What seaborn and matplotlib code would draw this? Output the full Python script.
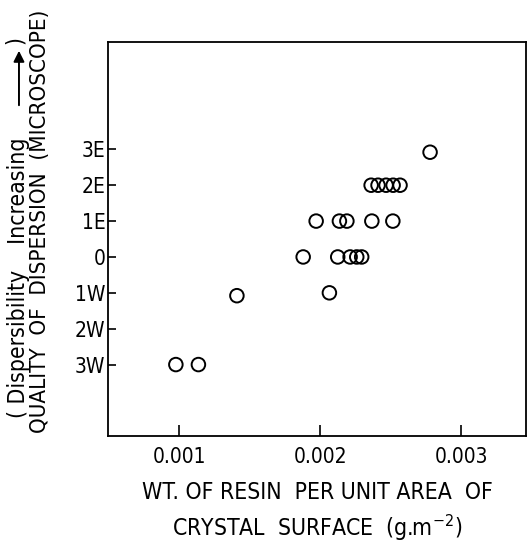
import matplotlib
matplotlib.use("Agg")
import matplotlib.pyplot as plt
import pandas as pd
import seaborn as sns

# Resin loading (g m^-2) and dispersion quality (3E = +3 ... 3W = -3)
resin = [0.000977, 0.001137, 0.00141, 0.002066,
         0.00188, 0.002125, 0.002213, 0.00226, 0.002295,
         0.001972, 0.002137, 0.00219, 0.002367, 0.002516,
         0.002362, 0.002411, 0.002468, 0.002518, 0.002567,
         0.00278]
quality = [-3, -3, -1.08, -1,
           0, 0, 0, 0, 0,
           1, 1, 1, 1, 1,
           2, 2, 2, 2, 2,
           2.92]

y_ticks = [3, 2, 1, 0, -1, -2, -3]
y_labels = ['3E', '2E', '1E', '0', '1W', '2W', '3W']
x_ticks = [0.001, 0.002, 0.003]
x_labels = ['0.001', '0.002', '0.003']

df = pd.DataFrame({'resin': resin, 'quality': quality})

sns.set_theme(style="ticks")
plt.rcParams['font.family'] = ['DejaVu Sans Condensed', 'DejaVu Sans']
plt.rcParams['font.stretch'] = 'condensed'
plt.rcParams['axes.linewidth'] = 1.3
for key in ['text.color', 'axes.labelcolor', 'xtick.color', 'ytick.color', 'axes.edgecolor']:
    plt.rcParams[key] = 'black'

fig = plt.figure(figsize=(5.27, 5.42), dpi=100)
ax = fig.add_axes([0.205, 0.195, 0.793, 0.728])

sns.scatterplot(data=df, x='resin', y='quality', ax=ax, marker='o', s=95,
                facecolors='none', edgecolor='black', linewidth=1.4)

ax.set_xlim(0.000496, 0.00346)
ax.set_ylim(-5, 6)
ax.set_xticks(x_ticks)
ax.set_xticklabels(x_labels, fontsize=15)
ax.set_yticks(y_ticks)
ax.set_yticklabels(y_labels, fontsize=15)
ax.tick_params(axis='both', direction='in', width=1.2)
ax.tick_params(axis='y', length=6, pad=2)
ax.tick_params(axis='x', length=8, pad=8)

ax.set_xlabel('WT. OF RESIN  PER UNIT AREA  OF\nCRYSTAL  SURFACE  (g.m$^{-2}$)',
              fontsize=16.5, linespacing=1.35, labelpad=10)
ax.set_ylabel('')

# outer line of the y label, with a long arrow pointing up
fig.text(0.036, 1 - 418 / 542, '( Dispersibility    Increasing', rotation=90,
         fontsize=16.5, ha='center', va='bottom')
ax.annotate('', xy=(0.036, 1 - 48 / 542), xytext=(0.036, 1 - 108 / 542),
            xycoords='figure fraction', textcoords='figure fraction',
            arrowprops=dict(arrowstyle='-|>', color='black', lw=1.4,
                            mutation_scale=16))
fig.text(0.030, 1 - 36 / 542, ')', rotation=90, fontsize=16.5,
         ha='center', va='top')
fig.text(0.076, 1 - 221 / 542, 'QUALITY  OF  DISPERSION  (MICROSCOPE)', rotation=90,
         fontsize=16, ha='center', va='center')

fig.savefig('out.png', dpi=100)
